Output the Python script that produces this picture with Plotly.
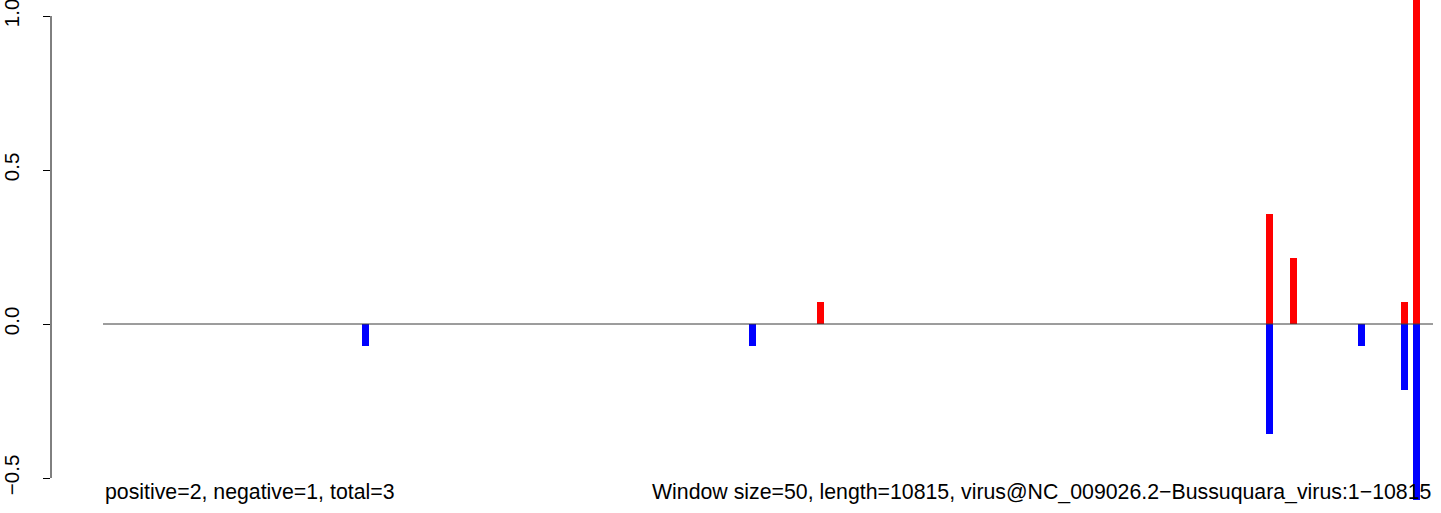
import plotly.graph_objects as go

# window positions (bp) and scores
pos_positions = [5834, 9486, 9681, 10583, 10681]
pos_values = [0.071, 0.357, 0.214, 0.071, 1.071]
neg_positions = [2135, 5281, 9486, 10230, 10583, 10681]
neg_values = [-0.071, -0.071, -0.357, -0.071, -0.214, -0.571]
seq_length = 10815
y_tick_vals = [-0.5, 0.0, 0.5, 1.0]
y_tick_text = ["\u22120.5", "0.0", "0.5", "1.0"]
left_label = "positive=2, negative=1, total=3"
right_label = "Window size=50, length=10815, virus@NC_009026.2\u2212Bussuquara_virus:1\u221210815"

FONT = "Liberation Sans, Arial, Helvetica, sans-serif"

fig = go.Figure()
fig.add_trace(go.Bar(x=pos_positions, y=pos_values, width=57,
                     marker=dict(color="#ff0000", line=dict(width=0)), showlegend=False))
fig.add_trace(go.Bar(x=neg_positions, y=neg_values, width=57,
                     marker=dict(color="#0000ff", line=dict(width=0)), showlegend=False))

# zero baseline
fig.add_shape(type="line", x0=0, x1=seq_length, y0=0, y1=0, xref="x", yref="y",
              line=dict(color="#3a3a3a", width=1), layer="above")
# y axis line spanning tick range (R style)
fig.add_shape(type="line", x0=0, x1=0, y0=min(y_tick_vals), y1=max(y_tick_vals),
              xref="paper", yref="y", line=dict(color="black", width=1))

fig.add_annotation(x=0, y=0, xref="x", yref="paper", text=left_label, showarrow=False,
                   xanchor="left", yanchor="bottom", yshift=7,
                   font=dict(family=FONT, size=21.3, color="black"))
fig.add_annotation(x=seq_length, y=0, xref="x", yref="paper", text=right_label, showarrow=False,
                   xanchor="right", yanchor="bottom", yshift=7,
                   font=dict(family=FONT, size=21.3, color="black"))

fig.update_layout(
    width=1441, height=513,
    margin=dict(l=51, r=0, t=0, b=0, autoexpand=False),
    paper_bgcolor="white", plot_bgcolor="white",
    barmode="overlay", bargap=0,
    xaxis=dict(range=[-423, 10880], visible=False, showgrid=False, zeroline=False,
               automargin=False),
    yaxis=dict(range=[-0.6136, 1.052], showgrid=False, zeroline=False, showline=False,
               automargin=False, ticklabeloverflow="allow",
               tickmode="array", tickvals=y_tick_vals, ticktext=y_tick_text,
               ticks="outside", ticklen=7, tickcolor="black", tickwidth=1,
               tickangle=-90, ticklabelstandoff=16,
               tickfont=dict(family=FONT, size=20.5, color="black")),
)

fig.write_html("out.html", config={"displayModeBar": False},
               post_script="document.body.style.margin='0px';")
